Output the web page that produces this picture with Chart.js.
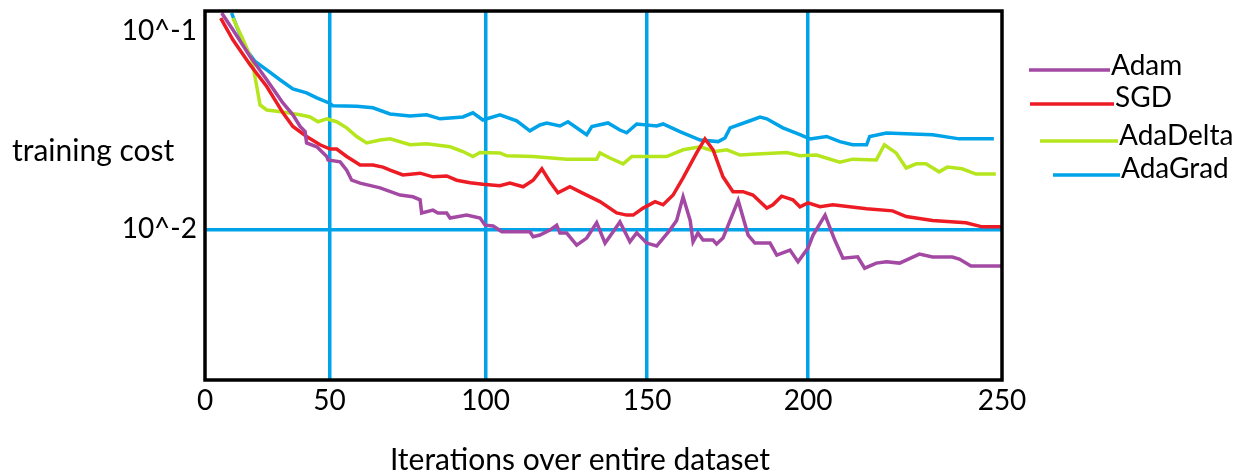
<!DOCTYPE html>
<html>
<head>
<meta charset="utf-8">
<title>training cost</title>
<script src="https://cdn.jsdelivr.net/npm/chart.js@4.4.1/dist/chart.umd.min.js"></script>
<style>
    html, body { margin: 0; padding: 0; background: #fff; }
    canvas { display: block; }
</style>
</head>
<body>
<canvas id="chart-cost" width="1247" height="474"></canvas>
<script>
// --- Data (iteration, training cost) ---
const adamIter = [6.7, 11.2, 18.1, 24.8, 31.3, 35.3, 38.2, 40.2, 40.8, 44.9, 48.9, 49.4, 53.4, 55.5, 57.1, 59.8, 66.2, 72.6, 76.7, 79.0,
    79.5, 83.1, 84.7, 87.5, 88.6, 93.9, 98.2, 99.8, 102.3, 105.0, 113.7, 114.7, 116.8, 119.9, 122.0, 123.0, 125.1, 128.2, 131.3, 134.4,
    137.0, 139.5, 141.6, 144.7, 146.8, 149.9, 153.0, 157.1, 159.2, 161.2, 163.4, 164.3, 165.8, 167.4, 170.5, 171.6, 173.6, 178.3, 181.4, 183.5,
    188.2, 190.3, 194.4, 196.9, 200.0, 201.3, 204.4, 206.9, 209.0, 212.8, 214.6, 217.6, 220.2, 223.6, 228.7, 232.1, 237.2, 239.0, 242.0, 250];
const adamCost = [0.1233, 0.1015, 0.0744, 0.0568, 0.0434, 0.0378, 0.0330, 0.0311, 0.0273, 0.0261, 0.0233, 0.0224, 0.0219, 0.0199, 0.0177, 0.0171, 0.0162, 0.0149, 0.0146, 0.0141,
    0.0121, 0.0125, 0.0121, 0.0121, 0.0114, 0.0118, 0.0114, 0.0105, 0.0104, 0.00972, 0.00972, 0.00918, 0.00936, 0.00992, 0.0105, 0.00958, 0.00958, 0.00833, 0.00904, 0.0108,
    0.00853, 0.00972, 0.0109, 0.00866, 0.0096, 0.00853, 0.00824, 0.00992, 0.0111, 0.0146, 0.0111, 0.00866, 0.00958, 0.00883, 0.00883, 0.00843, 0.00904, 0.0140, 0.00936, 0.00853,
    0.00853, 0.00742, 0.00786, 0.00686, 0.00805, 0.00936, 0.0118, 0.00883, 0.00716, 0.00727, 0.00637, 0.00676, 0.00686, 0.00676, 0.00750, 0.00725, 0.00725, 0.00708, 0.00653, 0.00653];

const sgdIter = [6.3, 11.2, 18.1, 24.8, 31.3, 35.3, 40.8, 46.2, 50.2, 52.3, 55.5, 59.8, 63.9, 67.1, 69.4, 73.5, 79.0, 83.1, 87.5, 90.7,
    95.0, 99.1, 104.4, 107.5, 111.6, 114.7, 117.4, 119.9, 122.4, 126.1, 130.2, 135.4, 140.6, 143.7, 145.7, 148.8, 152.5, 155.0, 158.1, 161.2,
    165.4, 168.0, 170.5, 173.6, 176.7, 179.8, 182.9, 187.2, 189.1, 191.8, 195.3, 197.5, 200.0, 203.1, 206.4, 215.1, 221.8, 225.3, 232.1, 240.7,
    244.9, 250];
const sgdCost = [0.1163, 0.0904, 0.0676, 0.0525, 0.0387, 0.0330, 0.0294, 0.0267, 0.0254, 0.0254, 0.0233, 0.0211, 0.0211, 0.0206, 0.0199, 0.0188, 0.0192, 0.0184, 0.0186, 0.0177,
    0.0172, 0.0169, 0.0166, 0.0171, 0.0164, 0.0177, 0.0202, 0.0174, 0.0153, 0.0164, 0.0152, 0.0138, 0.0121, 0.0118, 0.0118, 0.0128, 0.0138, 0.0133, 0.0149, 0.0182,
    0.0243, 0.0286, 0.0252, 0.0184, 0.0155, 0.0155, 0.0149, 0.0128, 0.0133, 0.0147, 0.0141, 0.0130, 0.0136, 0.0130, 0.0133, 0.0127, 0.0124, 0.0116, 0.0111, 0.0108,
    0.0103, 0.0103];

const adaDeltaIter = [11.2, 15.3, 18.8, 20.8, 22.1, 24.8, 31.3, 38.2, 42.2, 45.4, 48.9, 52.3, 55.5, 58.7, 61.9, 66.2, 69.4, 75.8, 81.1, 88.6,
    92.7, 95.9, 98.2, 104.4, 106.5, 114.7, 125.1, 134.4, 135.4, 138.5, 142.6, 145.3, 156.1, 161.2, 166.5, 171.1, 174.8, 178.9, 184.1, 193.4,
    197.5, 202.2, 208.2, 211.5, 217.6, 219.7, 222.7, 225.3, 227.9, 230.4, 233.8, 235.9, 239.7, 243.3, 248.4];
const adaDeltaCost = [0.1163, 0.0904, 0.0716, 0.0525, 0.0424, 0.0400, 0.0391, 0.0378, 0.0369, 0.0349, 0.0361, 0.0349, 0.0325, 0.0294, 0.0273, 0.0282, 0.0286, 0.0267, 0.0270, 0.0261,
    0.0247, 0.0233, 0.0244, 0.0243, 0.0235, 0.0233, 0.0226, 0.0226, 0.0243, 0.0229, 0.0214, 0.0233, 0.0233, 0.0252, 0.0261, 0.0247, 0.0252, 0.0237, 0.0240, 0.0244,
    0.0235, 0.0237, 0.0218, 0.0226, 0.0224, 0.0267, 0.0243, 0.0204, 0.0214, 0.0214, 0.0195, 0.0206, 0.0202, 0.0190, 0.0190];

const adaGradIter = [10.7, 12.7, 16.7, 20.1, 24.8, 30.1, 35.3, 40.8, 44.9, 49.8, 51.1, 58.7, 63.9, 69.4, 75.8, 81.1, 85.4, 92.7, 95.9, 99.1,
    104.4, 109.6, 113.7, 116.8, 118.9, 123.0, 125.5, 131.3, 132.9, 137.9, 141.6, 143.7, 146.8, 153.0, 155.0, 160.2, 166.5, 172.1, 174.2, 175.8,
    182.0, 185.1, 187.2, 192.2, 197.5, 200.5, 204.8, 208.2, 211.5, 215.1, 215.9, 220.2, 232.1, 239.0, 247.9];
const adaGradCost = [0.1233, 0.1055, 0.0805, 0.0702, 0.0637, 0.0568, 0.0511, 0.0488, 0.0460, 0.0434, 0.0420, 0.0418, 0.0410, 0.0382, 0.0373, 0.0378, 0.0361, 0.0369, 0.0387, 0.0356,
    0.0378, 0.0353, 0.0314, 0.0336, 0.0344, 0.0332, 0.0349, 0.0300, 0.0330, 0.0344, 0.0317, 0.0307, 0.0340, 0.0332, 0.0340, 0.0311, 0.0282, 0.0277, 0.0289, 0.0325,
    0.0353, 0.0368, 0.0361, 0.0325, 0.0300, 0.0286, 0.0294, 0.0277, 0.0267, 0.0267, 0.0294, 0.0306, 0.0300, 0.0286, 0.0286];

// axis ticks as labelled on the sketch
const xTicks = [0, 50, 100, 150, 200, 250];
const xGridIters = [50, 100, 150, 200];
const yTicks = [0.01, 0.1];
const yTickLabels = ['10^-2', '10^-1'];

// --- Paint palette ---
const COLORS = {
    purple: '#a349a4',
    red: '#ed1c24',
    lime: '#b5e61d',
    blue: '#00a2e8',
};
const FONT = 'Lato';

// The hand drawn x axis is not evenly spaced: where each labelled tick sits, as a share of the plot width
const X_TICK_SHARE = [0, 0.1562, 0.3522, 0.5546, 0.7566, 1];

// --- Piecewise linear axis, so the sketch's tick spacing is kept ---
class SketchScale extends Chart.LinearScale {
    getPixelForValue(value) {
        let i = 1;
        while (i < xTicks.length - 1 && value > xTicks[i]) i++;
        const t = (value - xTicks[i - 1]) / (xTicks[i] - xTicks[i - 1]);
        return this.getPixelForDecimal(X_TICK_SHARE[i - 1] + t * (X_TICK_SHARE[i] - X_TICK_SHARE[i - 1]));
    }
    getValueForPixel(pixel) {
        const d = this.getDecimalForPixel(pixel);
        let i = 1;
        while (i < X_TICK_SHARE.length - 1 && d > X_TICK_SHARE[i]) i++;
        const t = (d - X_TICK_SHARE[i - 1]) / (X_TICK_SHARE[i] - X_TICK_SHARE[i - 1]);
        return xTicks[i - 1] + t * (xTicks[i] - xTicks[i - 1]);
    }
}
SketchScale.id = 'sketch';
SketchScale.defaults = Chart.LinearScale.defaults;
Chart.register(SketchScale);

function toPoints(iters, costs) {
    return iters.map((x, i) => ({ x, y: costs[i] }));
}

function series(label, iters, costs, color) {
    return {
        label,
        data: toPoints(iters, costs),
        borderColor: color,
        backgroundColor: color,
        borderWidth: 3.5,
        pointRadius: 0,
        tension: 0,
        fill: false,
    };
}

// --- Black frame round the plot ---
const plotFrame = {
    id: 'plotFrame',
    afterDatasetsDraw(chart) {
        const { ctx, chartArea: a } = chart;
        ctx.save();
        ctx.strokeStyle = '#000';
        ctx.lineWidth = 3.5;
        ctx.strokeRect(a.left, a.top, a.right - a.left, a.bottom - a.top);
        ctx.restore();
    }
};

// --- Axis titles and the hand placed legend ---
// [line start, line end, line y, text baseline]
const LEGEND_SPOTS = [
    [1029, 1110, 70, 75],
    [1030, 1114, 104, 107],
    [1040, 1118, 141, 145],
    [1053, 1120, 175, 178],
];
const sideText = {
    id: 'sideText',
    afterDraw(chart) {
        const ctx = chart.ctx;
        ctx.save();
        ctx.fillStyle = '#000';
        ctx.textBaseline = 'alphabetic';
        ctx.font = `30px ${FONT}`;
        ctx.fillText('training cost', 12, 161);
        ctx.textAlign = 'center';
        ctx.fillText('Iterations over entire dataset', 580, 470);
        ctx.textAlign = 'left';
        ctx.font = `28px ${FONT}`;
        chart.data.datasets.forEach((ds, i) => {
            const [x1, x2, ly, ty] = LEGEND_SPOTS[i];
            ctx.strokeStyle = ds.borderColor;
            ctx.lineWidth = 3.5;
            ctx.beginPath();
            ctx.moveTo(x1, ly);
            ctx.lineTo(x2, ly);
            ctx.stroke();
            ctx.fillText(ds.label, x2 + 1, ty);
        });
        ctx.restore();
    }
};

new Chart(document.getElementById('chart-cost'), {
    type: 'line',
    data: {
        datasets: [
            series('Adam', adamIter, adamCost, COLORS.purple),
            series('SGD', sgdIter, sgdCost, COLORS.red),
            series('AdaDelta', adaDeltaIter, adaDeltaCost, COLORS.lime),
            series('AdaGrad', adaGradIter, adaGradCost, COLORS.blue),
        ]
    },
    options: {
        responsive: false,
        animation: false,
        layout: { padding: { top: 11, right: 245, left: 0, bottom: 0 } },
        plugins: {
            legend: { display: false },
            tooltip: { enabled: false },
        },
        scales: {
            x: {
                type: 'sketch',
                min: 0,
                max: 250,
                afterBuildTicks: axis => { axis.ticks = xTicks.map(v => ({ value: v })); },
                afterFit: axis => { axis.height = 94; },
                ticks: {
                    padding: 4,
                    autoSkip: false,
                    maxRotation: 0,
                    color: '#000',
                    font: { family: FONT, size: 28 },
                },
                grid: {
                    color: ctx => (ctx.tick && xGridIters.includes(ctx.tick.value)) ? COLORS.blue : 'rgba(0,0,0,0)',
                    lineWidth: 3.5,
                    drawTicks: false,
                },
                border: { display: false },
            },
            y: {
                type: 'logarithmic',
                min: 0.00174,
                max: 0.1262,
                afterBuildTicks: axis => { axis.ticks = yTicks.map(v => ({ value: v })); },
                afterFit: axis => {
                    axis.width = 205;
                    axis.paddingTop = 0;
                    axis.paddingBottom = 0;
                },
                ticks: {
                    padding: 8,
                    color: '#000',
                    font: { family: FONT, size: 28 },
                    callback: v => yTickLabels[yTicks.indexOf(v)],
                },
                grid: {
                    color: ctx => (ctx.tick && ctx.tick.value === 0.01) ? COLORS.blue : 'rgba(0,0,0,0)',
                    lineWidth: 3.5,
                    drawTicks: false,
                },
                border: { display: false },
            }
        }
    },
    plugins: [plotFrame, sideText]
});
</script>
</body>
</html>
